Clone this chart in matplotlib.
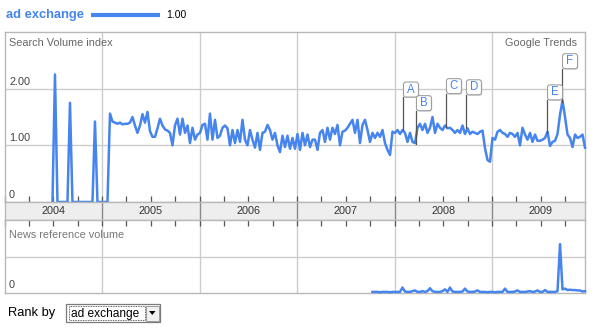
import numpy as np
import matplotlib
matplotlib.use('Agg')
import matplotlib.pyplot as plt
from matplotlib.patches import Rectangle, FancyBboxPatch, Polygon
from matplotlib.lines import Line2D
from matplotlib.transforms import Affine2D, ScaledTranslation

plt.rcParams['font.family'] = ['Liberation Sans', 'DejaVu Sans']

# ---------------- data ----------------
term = 'ad exchange'
term_scale = '1.00'
years = [2004, 2005, 2006, 2007, 2008, 2009]
search_start, search_end = 2004.492, 2009.954
search_values = [
    0, 2.25, 0, 0, 0, 0, 0, 1.75, 0, 0, 0, 0, 0, 0, 0, 0, 0, 1.42, 0, 0, 0, 0, 0,
    1.56, 1.42, 1.40, 1.38, 1.40, 1.37, 1.38, 1.38, 1.40, 1.50, 1.35, 1.22, 1.35, 1.55, 1.40, 1.59,
    1.25, 1.15, 1.15, 1.30, 1.47, 1.35, 1.28, 1.26, 1.22, 1.00, 1.35, 1.47, 1.19, 1.47, 1.22, 1.35,
    1.04, 1.31, 1.10, 1.19,
    1.22, 1.36, 1.38, 1.10, 1.56, 1.10, 1.45, 1.13, 1.17, 1.31, 1.35, 1.30, 1.00, 1.27, 1.04, 1.27,
    1.06, 1.45, 1.10, 1.00, 1.27, 1.10, 0.96, 1.22, 0.92, 1.22, 1.24, 1.36, 1.27, 1.10, 1.22, 1.00,
    0.88, 1.17, 0.97, 1.17, 0.94, 1.13, 0.94, 1.20,
    0.92, 1.22, 1.00, 1.19, 0.97, 1.10, 1.10, 0.92, 1.22, 1.27, 1.06, 1.31, 1.10, 1.31, 1.20, 1.36,
    1.00, 1.24, 1.26, 1.31, 1.38, 1.45, 1.22, 1.45, 1.04, 1.36, 1.45, 1.27, 1.06, 1.22, 1.13, 1.22,
    1.15, 1.27, 1.04, 0.92, 0.83, 1.24, 1.22, 1.27,
    1.20, 1.27, 1.22, 1.06, 1.22, 1.06, 1.04, 1.31, 1.38, 1.27, 1.38, 1.22, 1.31, 1.50, 1.22, 1.38,
    1.31, 1.27, 1.35, 1.30, 1.31, 1.27, 1.22, 1.27, 1.22, 1.35, 1.20, 1.30, 1.20, 1.24, 1.22, 1.20,
    1.24, 1.26, 0.95, 0.74, 0.71, 1.13, 1.10, 1.24,
    1.27, 1.22, 1.20, 1.15, 1.22, 1.20, 1.15, 1.22, 1.00, 1.31, 1.19, 1.10, 1.22, 1.06, 1.19, 1.08,
    1.08, 1.10, 1.13, 1.24, 0.99, 1.06, 1.08, 1.20, 1.54, 1.79, 1.50, 1.19, 1.13, 0.97, 1.19, 1.13,
    1.15, 1.19, 0.96,
]
news_start, news_end = 2007.774, 2009.954
news_values = [
    0.03, 0.03, 0.03, 0.02, 0.03, 0.03, 0.03, 0.02, 0.03, 0.03, 0.03, 0.03,
    0.15, 0.04, 0.03, 0.03, 0.05, 0.07, 0.03, 0.03, 0.05, 0.03, 0.05, 0.13,
    0.05, 0.03, 0.03, 0.03, 0.05, 0.10, 0.03, 0.15, 0.04, 0.03, 0.03, 0.03,
    0.04, 0.12, 0.04, 0.03, 0.03, 0.04, 0.07, 0.03, 0.03, 0.03, 0.02, 0.03,
    0.03, 0.02, 0.03, 0.03, 0.03, 0.12, 0.03, 0.03, 0.03, 0.04, 0.07, 0.03,
    0.03, 0.03, 0.04, 0.05, 0.03, 0.04, 0.07, 0.03, 0.03, 0.08, 0.03, 0.03,
    0.03, 0.03, 0.05, 1.34, 0.10, 0.12, 0.08, 0.09, 0.08, 0.08, 0.07, 0.07,
    0.04, 0.05,
]
yticks = [0, 1.0, 2.0]
ytick_labels = ['0', '1.00', '2.00']
news_ticks = [0, 1.0]
news_tick_labels = ['0', '']
events = ['A', 'B', 'C', 'D', 'E', 'F']
event_dates = [2008.087, 2008.220, 2008.528, 2008.733, 2009.564, 2009.718]
event_values = [1.27, 1.03, 1.33, 1.31, 1.22, 1.77]

# ---------------- style ----------------
BLUE = '#4684ee'
GRID = '#cccccc'
BORDER = '#b8b8b8'
W, H = 599, 333
fig = plt.figure(figsize=(W / 100, H / 100), dpi=100)
fig.patch.set_facecolor('white')

def fx(x):
    return x / W

def fy(y):
    return 1 - y / H

PX = Affine2D().scale(1, -1).translate(0, H)  # pixel coords from top-left

L, R = 4.5, 585
XMIN = 2004
XMAX = 2004 + (R - L) / 97.5

ax1 = fig.add_axes([fx(L), fy(202), fx(R) - fx(L), fy(32) - fy(202)])
band = fig.add_axes([fx(L), fy(220), fx(R) - fx(L), fy(202) - fy(220)])
ax2 = fig.add_axes([fx(L), fy(293), fx(R) - fx(L), fy(220) - fy(293)])

quarters = np.arange(XMIN, XMAX, 0.25)
for ax in (ax1, ax2, band):
    ax.set_xlim(XMIN, XMAX)
    for s in ax.spines.values():
        s.set_color(BORDER)
        s.set_linewidth(1.0)
    ax.set_yticks([])
    ax.set_yticklabels([])

# main panel
ax1.set_ylim(0, 3.0)
for v in yticks[1:]:
    ax1.axhline(v, color=GRID, lw=1.0, zorder=1)
for y in years[1:]:
    ax1.axvline(y, color=GRID, lw=1.0, zorder=1)
ax1.set_xticks(quarters)
ax1.set_xticklabels([])
ax1.tick_params(axis='x', direction='in', length=4, width=0.9, color='#555555', bottom=True, top=False)
xs = np.linspace(search_start, search_end, len(search_values))
ax1.plot(xs, search_values, color=BLUE, lw=1.8, clip_on=False, zorder=3, solid_joinstyle='round')
ytr = ax1.get_yaxis_transform()
for v, lab in zip(yticks, ytick_labels):
    ax1.annotate(lab, xy=(0, v), xycoords=ytr, xytext=(4.5, 7), textcoords='offset pixels',
                 va='center', ha='left', fontsize=7.8, color='#444444')
fig.text(9, 43, 'Search Volume index', transform=PX, fontsize=7.8, color='#666666', va='center', ha='left')
fig.text(577, 43, 'Google Trends', transform=PX, fontsize=7.8, color='#666666', va='center', ha='right')

# event markers
for lab, d, v in zip(events, event_dates, event_values):
    tr = Affine2D().scale(1, 1) + ScaledTranslation(d, v, ax1.transData)
    ax1.add_line(Line2D([0, 0], [0, 33], transform=tr, color='#555555', lw=0.9, clip_on=False, zorder=4))
    ax1.add_patch(FancyBboxPatch((0.5, 33), 15, 15, boxstyle='round,pad=0,rounding_size=2.5',
                                 transform=Affine2D().translate(0.8, -1.0) + tr, fc='#d0d0d0', ec='none',
                                 clip_on=False, zorder=4))
    ax1.add_patch(FancyBboxPatch((0.5, 33), 15, 15, boxstyle='round,pad=0,rounding_size=2.5',
                                 transform=tr, fc='white', ec='#a0a0a0', lw=0.8, clip_on=False, zorder=5))
    ax1.text(8, 40.5, lab, transform=tr, ha='center', va='center', color=BLUE, fontsize=8.3, zorder=6)

# year band
band.set_facecolor('#eeeeee')
band.set_ylim(0, 1)
band.set_xticks([])
for y in years[1:]:
    band.axvline(y, color='#8a8a8a', lw=1.0)
for y in years:
    band.text(y + 0.5, 0.5, str(y), ha='center', va='center', fontsize=7.8, color='#333333')

# news panel
ax2.set_ylim(0, 2.0)
ax2.axhline(news_ticks[1], color=GRID, lw=1.0, zorder=1)
for y in years[1:]:
    ax2.axvline(y, color=GRID, lw=1.0, zorder=1)
ax2.set_xticks(quarters)
ax2.set_xticklabels([])
ax2.tick_params(axis='x', direction='in', length=4, width=0.9, color='#555555', bottom=False, top=True)
nx = np.linspace(news_start, news_end, len(news_values))
ax2.plot(nx, news_values, color=BLUE, lw=1.8, clip_on=False, zorder=3)
ytr2 = ax2.get_yaxis_transform()
ax2.annotate(news_tick_labels[0], xy=(0, news_ticks[0]), xycoords=ytr2, xytext=(4.5, 8),
             textcoords='offset pixels', va='center', ha='left', fontsize=7.8, color='#444444')
fig.text(9, 235, 'News reference volume', transform=PX, fontsize=7.8, color='#777777', va='center', ha='left')

# header legend
fig.text(6, 15, term, transform=PX, fontsize=9.3, fontweight='bold', color=BLUE, va='center', ha='left')
fig.add_artist(Line2D([91, 160], [15.3, 15.3], transform=PX, color=BLUE, lw=3.0, solid_capstyle='butt'))
fig.text(166, 15.5, term_scale, transform=PX, fontsize=7.5, color='#000000', va='center', ha='left')

# rank by control
fig.text(8, 313, 'Rank by', transform=PX, fontsize=9.3, color='#000000', va='center', ha='left')
fig.add_artist(Rectangle((66, 304), 94, 18, transform=PX, fc='white', ec='#7a7a7a', lw=0.9))
fig.add_artist(Rectangle((68.5, 306), 76, 14, transform=PX, fc='none', ec='#333333', lw=0.6, ls=(0, (1, 1))))
fig.text(71, 313.5, term, transform=PX, fontsize=8.6, color='#000000', va='center', ha='left')
fig.add_artist(Rectangle((146, 305.5), 12.5, 15, transform=PX, fc='#f0f0f0', ec='#9a9a9a', lw=0.7))
fig.add_artist(Polygon([[149, 311], [155.5, 311], [152.25, 315]], closed=True, transform=PX,
                       fc='#000000', ec='none'))

fig.savefig('out.png', dpi=100, facecolor='white')
